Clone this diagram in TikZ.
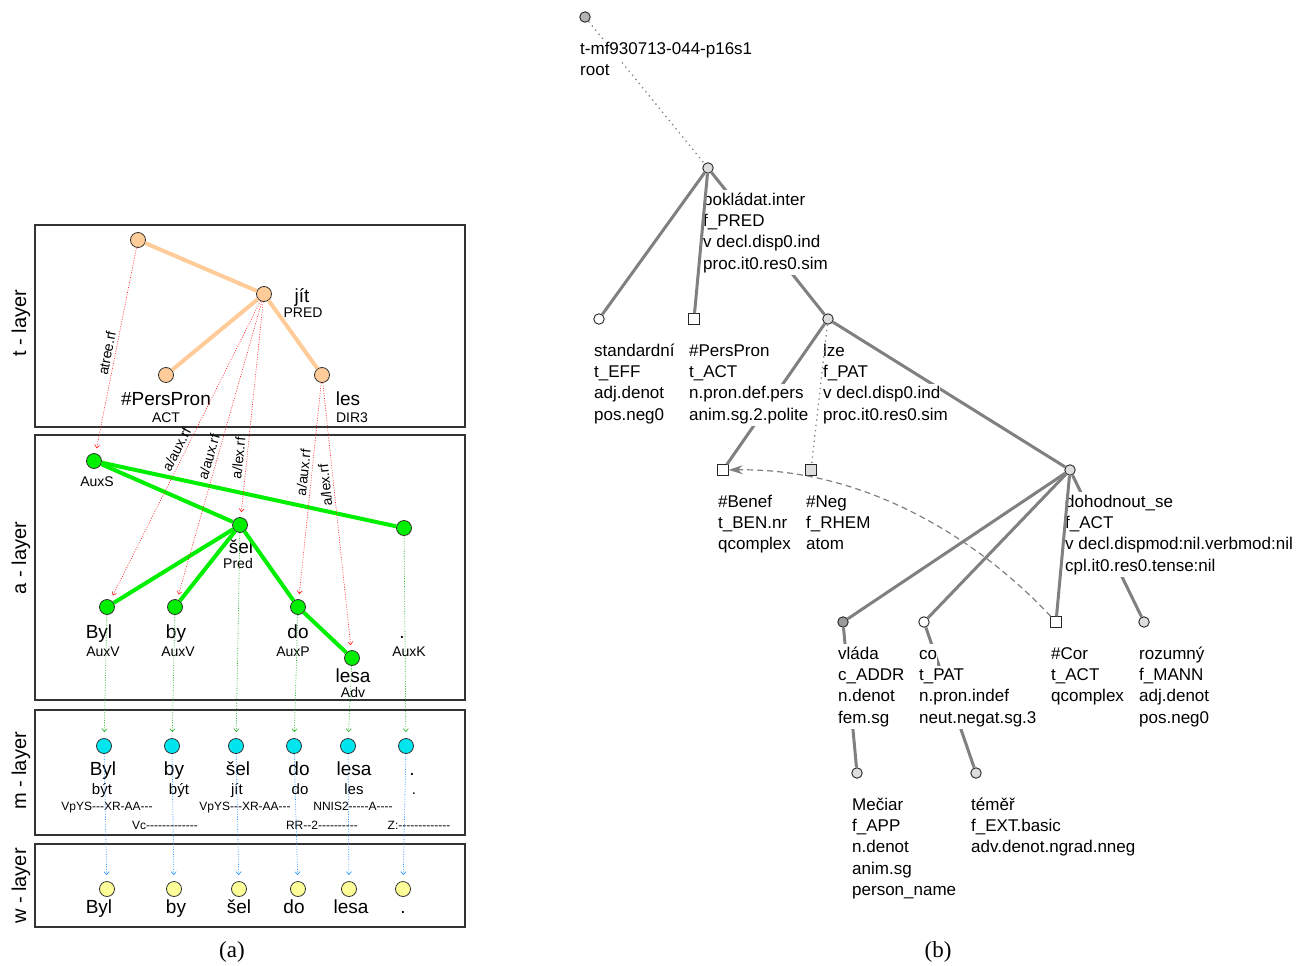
\documentclass[tikz,border=0pt]{standalone}
\usepackage{fontspec}
\newfontfamily\treefont{Liberation Sans}
\newfontfamily\capfont{Liberation Serif}
\usetikzlibrary{arrows.meta,positioning}

\definecolor{tpeach}{HTML}{FFCC99}
\definecolor{agreen}{HTML}{00EE00}
\definecolor{mcyan}{HTML}{00E5EE}
\definecolor{wyellow}{HTML}{FFFF99}
\definecolor{refred}{HTML}{FF2020}
\definecolor{refgreen}{HTML}{20B020}
\definecolor{refblue}{HTML}{2090FF}
\definecolor{egray}{HTML}{808080}
\definecolor{nlight}{HTML}{DDDDDD}
\definecolor{nmid}{HTML}{B4B4B4}
\definecolor{ndark}{HTML}{9A9A9A}

\newcommand{\wline}[1]{{\fboxsep=0pt\colorbox{white}{\strut#1}}}

\begin{document}
\begin{tikzpicture}[x=1pt, y=-1pt,
    tnode/.style = {circle, draw=black!80, line width=0.8pt, minimum size=15pt, inner sep=0pt, fill=tpeach},
    anode/.style = {tnode, fill=agreen},
    mnode/.style = {tnode, fill=mcyan},
    wnode/.style = {tnode, fill=wyellow},
    word/.style = {inner sep=0pt, text height=14pt, text depth=4pt, font=\treefont\fontsize{19}{22}\selectfont},
    lemma/.style = {inner sep=0pt, text height=11pt, text depth=3pt, font=\treefont\fontsize{15}{18}\selectfont},
    func/.style = {inner sep=0pt, text height=10pt, text depth=3pt, font=\treefont\fontsize{14}{16}\selectfont},
    mtag/.style = {inner sep=0pt, text height=9pt, text depth=2pt, font=\treefont\fontsize{12}{14}\selectfont},
    layerbox/.style = {draw=black!80, line width=1.1pt},
    layername/.style = {rotate=90, inner sep=0pt, font=\treefont\fontsize{20}{24}\selectfont},
    tline/.style = {draw=tpeach, line width=4pt},
    aline/.style = {draw=agreen, line width=4pt},
    aref/.style = {draw=refred, line width=0.6pt, dash pattern=on 1pt off 1.5pt, -{Straight Barb[length=3pt, width=5pt]}, shorten >=5pt},
    mref/.style = {aref, draw=refgreen, shorten >=6pt},
    wref/.style = {aref, draw=refblue, shorten >=6pt},
    reflab/.style = {anchor=south, inner sep=3pt, font=\treefont\fontsize{14}{16}\selectfont},
    tcirc/.style = {circle, draw=black!85, line width=0.9pt, minimum size=10.5pt, inner sep=0pt, fill=white},
    tsq/.style = {tcirc, rectangle},
    tlab/.style = {align=left, inner sep=0pt, font=\treefont\fontsize{17}{21.3}\selectfont},
    tedge/.style = {draw=egray, line width=3pt},
    tdot/.style = {draw=egray, line width=1.3pt, dash pattern=on 1.3pt off 4pt},
    coref/.style = {draw=egray, line width=1.2pt, dash pattern=on 6pt off 4pt, -{Stealth[length=14pt, width=9pt]}},
    caption/.style = {font=\capfont\fontsize{23}{26}\selectfont}
]
\useasboundingbox (0,0) rectangle (1304,966);

% ---------- (a) layers
\draw[layerbox] (35,225) rectangle (465,427);
\draw[layerbox] (35,435) rectangle (465,700);
\draw[layerbox] (35,710) rectangle (465,835);
\draw[layerbox] (35,844) rectangle (465,927);
\node[layername] (tname) at (21,323) {t - layer};
\node[layername] (aname) at (21,558) {a - layer};
\node[layername] (mname) at (21,771) {m - layer};
\node[layername] (wname) at (21,886) {w - layer};

% t-layer
\node[tnode] (troot) at (138,240) {};
\node[tnode] (tjit) at (264,294) {};
\node[tnode] (tpers) at (166,375) {};
\node[tnode] (tles) at (322,375) {};
\node[word] (tjitw) at (302,297) {jít};
\node[func] (tjitf) at (303,314) {PRED};
\node[word] (tpersw) at (166,400) {\#PersPron};
\node[func] (tpersf) at (166,419) {ACT};
\node[word] (tlesw) at (348,400) {les};
\node[func] (tlesf) at (352,419) {DIR3};
\draw[tline] (troot) -- (tjit);
\draw[tline] (tjit) -- (tpers);
\draw[tline] (tjit) -- (tles);

% a-layer
\node[anode] (aAuxS) at (94,461) {};
\node[anode] (aPred) at (240,525) {};
\node[anode] (aAuxK) at (404,528) {};
\node[anode] (aByl) at (107,607) {};
\node[anode] (aby) at (175,607) {};
\node[anode] (ado) at (298,607) {};
\node[anode] (alesa) at (352,658) {};
\node[func] (aAuxSf) at (97,483) {AuxS};
\node[word] (aPredw) at (241,548) {šel};
\node[func] (aPredf) at (238,565) {Pred};
\node[word] (aAuxKw) at (402,633) {.};
\node[func] (aAuxKf) at (409,653) {AuxK};
\node[word] (aBylw) at (99,633) {Byl};
\node[func] (aBylf) at (103,653) {AuxV};
\node[word] (abyw) at (176,633) {by};
\node[func] (abyf) at (178,653) {AuxV};
\node[word] (adow) at (298,633) {do};
\node[func] (adof) at (293,653) {AuxP};
\node[word] (alesaw) at (353,677) {lesa};
\node[func] (alesaf) at (353,694) {Adv};
\draw[aline] (aAuxS) -- (aPred);
\draw[aline] (aAuxS) -- (aAuxK);
\draw[aline] (aPred) -- (aByl);
\draw[aline] (aPred) -- (aby);
\draw[aline] (aPred) -- (ado);
\draw[aline] (ado) -- (alesa);

% m-layer
\node[mnode] (mByl) at (104,746) {};
\node[mnode] (mby) at (172,746) {};
\node[mnode] (msel) at (236,746) {};
\node[mnode] (mdo) at (294,746) {};
\node[mnode] (mlesa) at (348,746) {};
\node[mnode] (mdot) at (406,746) {};
\node[word] (mBylw) at (103,770) {Byl};
\node[word] (mbyw) at (174,770) {by};
\node[word] (mselw) at (238,770) {šel};
\node[word] (mdow) at (299,770) {do};
\node[word] (mlesaw) at (354,770) {lesa};
\node[word] (mdotw) at (412,770) {.};
\node[lemma] (mBylm) at (102,790) {být};
\node[lemma] (mbym) at (179,790) {být};
\node[lemma] (mselm) at (237,790) {jít};
\node[lemma] (mdom) at (300,790) {do};
\node[lemma] (mlesam) at (354,790) {les};
\node[lemma] (mdotm) at (414,790) {.};
\node[mtag] (mBylt) at (107,807) {VpYS---XR-AA---};
\node[mtag] (mbyt) at (165,826) {Vc-------------};
\node[mtag] (mselt) at (245,807) {VpYS---XR-AA---};
\node[mtag] (mdot2) at (322,826) {RR--2----------};
\node[mtag] (mlesat) at (353,807) {NNIS2-----A----};
\node[mtag] (mdott) at (419,826) {Z:-------------};

% w-layer
\node[wnode] (wByl) at (107,889) {};
\node[wnode] (wby) at (174,889) {};
\node[wnode] (wsel) at (239,889) {};
\node[wnode] (wdo) at (298,889) {};
\node[wnode] (wlesa) at (349,889) {};
\node[wnode] (wdot) at (403,889) {};
\node[word] (wBylw) at (99,908) {Byl};
\node[word] (wbyw) at (176,908) {by};
\node[word] (wselw) at (239,908) {šel};
\node[word] (wdow) at (294,908) {do};
\node[word] (wlesaw) at (351,908) {lesa};
\node[word] (wdotw) at (403,908) {.};

% references between layers
\draw[aref] (troot) -- node[reflab, pos=0.52, rotate=79] (r1) {atree.rf} (aAuxS);
\draw[aref] (tjit) -- node[reflab, pos=0.51, rotate=63] (r2) {a/aux.rf} (aByl);
\draw[aref] (tjit) -- node[reflab, pos=0.53, rotate=74] (r3) {a/aux.rf} (aby);
\draw[aref] (tjit) -- node[reflab, pos=0.73, rotate=84] (r4) {a/lex.rf} (aPred);
\draw[aref] (tles) -- node[reflab, pos=0.42, rotate=84] (r5) {a/aux.rf} (ado);
\draw[aref] (tles) -- node[reflab, pos=0.38, rotate=96] (r6) {a/lex.rf} (alesa);
\draw[mref] (aByl) -- (mByl);
\draw[mref] (aby) -- (mby);
\draw[mref] (aPred) -- (msel);
\draw[mref] (ado) -- (mdo);
\draw[mref] (alesa) -- (mlesa);
\draw[mref] (aAuxK) -- (mdot);
\draw[wref] (mByl) -- (wByl);
\draw[wref] (mby) -- (wby);
\draw[wref] (msel) -- (wsel);
\draw[wref] (mdo) -- (wdo);
\draw[wref] (mlesa) -- (wlesa);
\draw[wref] (mdot) -- (wdot);

% ---------- (b) tectogrammatical tree
\node[tcirc, fill=nmid] (root) at (585,17) {};
\node[tcirc, fill=nlight] (pok) at (708,168) {};
\node[tcirc] (stand) at (599,319) {};
\node[tsq] (pers) at (694,319) {};
\node[tcirc, fill=nlight] (lze) at (828,319) {};
\node[tsq] (benef) at (723,470) {};
\node[tsq, fill=nlight] (neg) at (811,470) {};
\node[tcirc, fill=nlight] (doh) at (1070,470) {};
\node[tcirc, fill=ndark] (vlada) at (843,622) {};
\node[tcirc] (co) at (924,622) {};
\node[tsq] (cor) at (1056,622) {};
\node[tcirc, fill=nlight] (rozum) at (1144,622) {};
\node[tcirc, fill=nlight] (meciar) at (857,773) {};
\node[tcirc, fill=nlight] (temer) at (976,773) {};

\draw[tdot] (root) -- (pok);
\draw[tedge] (pok) -- (stand);
\draw[tedge] (pok) -- (lze);
\draw[tedge] (lze) -- (benef);
\draw[tedge] (lze) -- (doh);
\draw[tedge] (doh) -- (vlada);
\draw[tedge] (doh) -- (co);
\draw[tedge] (doh) -- (rozum);
\draw[tedge] (vlada) -- (meciar);
\draw[tedge] (co) -- (temer);

\node[tlab, below right=22pt and -5pt of root.center] (rootlab) {\wline{t-mf930713-044-p16s1}\\\wline{root}};
\node[tlab, below right=22pt and -5pt of pok.center] (poklab) {\wline{pokládat.inter}\\\wline{f\_PRED}\\\wline{v decl.disp0.ind}\\\wline{proc.it0.res0.sim}};
\node[tlab, below right=22pt and -5pt of stand.center] (standlab) {\wline{standardní}\\\wline{t\_EFF}\\\wline{adj.denot}\\\wline{pos.neg0}};
\node[tlab, below right=22pt and -5pt of pers.center] (perslab) {\wline{\#PersPron}\\\wline{t\_ACT}\\\wline{n.pron.def.pers}\\\wline{anim.sg.2.polite}};
\node[tlab, below right=22pt and -5pt of lze.center] (lzelab) {\wline{lze}\\\wline{f\_PAT}\\\wline{v decl.disp0.ind}\\\wline{proc.it0.res0.sim}};
\node[tlab, below right=22pt and -5pt of benef.center] (beneflab) {\wline{\#Benef}\\\wline{t\_BEN.nr}\\\wline{qcomplex}};
\node[tlab, below right=22pt and -5pt of neg.center] (neglab) {\wline{\#Neg}\\\wline{f\_RHEM}\\\wline{atom}};
\node[tlab, below right=22pt and -5pt of doh.center] (dohlab) {\wline{dohodnout\_se}\\\wline{f\_ACT}\\\wline{v decl.dispmod:nil.verbmod:nil}\\\wline{cpl.it0.res0.tense:nil}};
\node[tlab, below right=22pt and -5pt of vlada.center] (vladalab) {\wline{vláda}\\\wline{c\_ADDR}\\\wline{n.denot}\\\wline{fem.sg}};
\node[tlab, below right=22pt and -5pt of co.center] (colab) {\wline{co}\\\wline{t\_PAT}\\\wline{n.pron.indef}\\\wline{neut.negat.sg.3}};
\node[tlab, below right=22pt and -5pt of cor.center] (corlab) {\wline{\#Cor}\\\wline{t\_ACT}\\\wline{qcomplex}};
\node[tlab, below right=22pt and -5pt of rozum.center] (rozumlab) {\wline{rozumný}\\\wline{f\_MANN}\\\wline{adj.denot}\\\wline{pos.neg0}};
\node[tlab, below right=22pt and -5pt of meciar.center] (meciarlab) {\wline{Mečiar}\\\wline{f\_APP}\\\wline{n.denot}\\\wline{anim.sg}\\\wline{person\_name}};
\node[tlab, below right=22pt and -5pt of temer.center] (temerlab) {\wline{téměř}\\\wline{f\_EXT.basic}\\\wline{adv.denot.ngrad.nneg}};

\draw[tedge] (pok) -- (pers);
\draw[tdot] (lze) -- (neg);
\draw[tedge] (doh) -- (cor);
\draw[coref] (cor) .. controls +(-70,-75) and +(150,-2) .. (benef);

% captions
\node[caption] (capa) at (232,952) {(a)};
\node[caption] (capb) at (938,952) {(b)};
\end{tikzpicture}
\end{document}
